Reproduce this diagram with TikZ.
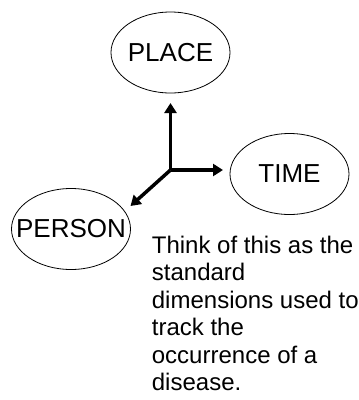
\documentclass[tikz,border=0pt]{standalone}
\usepackage{fontspec}
\setmainfont{Liberation Sans}
\usetikzlibrary{arrows.meta,shapes.geometric}
\newcommand{\dimlabel}[1]{\makebox[0pt]{#1}}
\tikzset{
  dimbox/.style={draw, ellipse, line width=0.8pt, inner sep=0pt,
    minimum width=119pt, minimum height=81pt,
    font=\fontsize{26}{30}\selectfont},
  axis/.style={line width=3.5pt, -{Triangle[length=10pt,width=12pt]}}
}

\begin{document}
\begin{tikzpicture}[x=1pt, y=-1pt]
			%%%%% START %%%%%
			\useasboundingbox (0, 0) rectangle (359, 400);
			
			\node[dimbox] (place) at (170.5, 52.5) {\dimlabel{PLACE}};
			\node[dimbox] (time) at (289.5, 174) {\dimlabel{TIME}};
			\node[dimbox] (person) at (71, 229) {\dimlabel{PERSON}};
			
			\coordinate (origin) at (170.5, 170);
			\coordinate (placeend) at (170.5, 103);
			\coordinate (timeend) at (223, 170);
			\coordinate (personend) at (130.5, 206);
			
			\draw[axis] (origin) -- (placeend);
			\draw[axis] (origin) -- (timeend);
			\draw[axis] (origin) -- (personend);
			
			% last line sits on the anchor
			\node[anchor=base west, align=left, inner sep=0pt,
			  font=\fontsize{24}{27.5}\selectfont] (note) at (151.7, 390.5)
			  {Think of this as the\\standard\\dimensions used to\\track the\\occurrence of a\\disease.};
			
			%%%%% END %%%%%
\end{tikzpicture}
\end{document}
